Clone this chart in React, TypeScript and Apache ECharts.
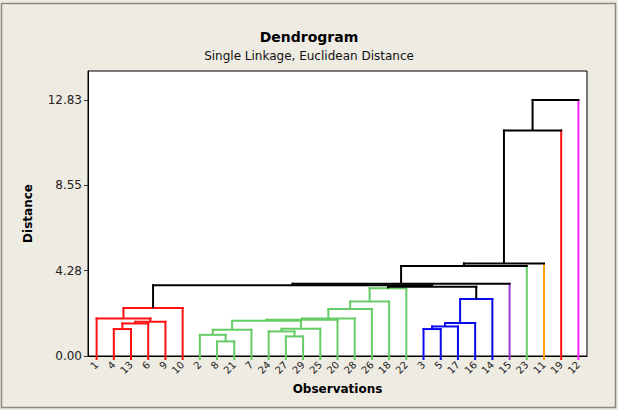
import React, { useEffect, useRef } from "react";
import * as echarts from "echarts";

// Leaf order along the bottom axis
const leaves = ["1", "4", "13", "6", "9", "10", "2", "8", "21", "7", "24", "27", "29", "25", "20", "28", "26", "18", "22", "3", "5", "17", "16", "14", "15", "23", "11", "19", "12"];

// Cluster membership of each observation (leaf colour)
const redLeaves = ["1", "4", "13", "6", "9", "10", "19"];
const greenLeaves = ["2", "8", "21", "7", "24", "27", "29", "25", "20", "28", "26", "18", "22", "23"];
const blueLeaves = ["3", "5", "17", "16", "14"];
const purpleLeaves = ["15"];
const orangeLeaves = ["11"];
const magentaLeaves = ["12"];

// Merge steps: [left child, right child, distance, link colour]
const mergeSteps: [string, string, number, string][] = [
  ["4", "13", 1.35, "red"],
  ["M1", "6", 1.63, "red"],
  ["M2", "9", 1.71, "red"],
  ["1", "M3", 1.88, "red"],
  ["M4", "10", 2.4, "red"],
  ["8", "21", 0.73, "green"],
  ["2", "M6", 1.06, "green"],
  ["M7", "7", 1.31, "green"],
  ["27", "29", 0.98, "green"],
  ["24", "M9", 1.23, "green"],
  ["M10", "25", 1.37, "green"],
  ["M8", "M11", 1.76, "green"],
  ["M12", "20", 1.82, "green"],
  ["M13", "28", 1.88, "green"],
  ["M14", "26", 2.35, "green"],
  ["M15", "18", 2.73, "green"],
  ["M16", "22", 3.39, "green"],
  ["3", "5", 1.35, "blue"],
  ["M18", "17", 1.48, "blue"],
  ["M19", "16", 1.65, "blue"],
  ["M20", "14", 2.85, "blue"],
  ["M17", "M21", 3.47, "black"],
  ["M5", "M22", 3.55, "black"],
  ["M23", "15", 3.62, "black"],
  ["M24", "23", 4.51, "black"],
  ["M25", "11", 4.64, "black"],
  ["M26", "19", 11.3, "black"],
  ["M27", "12", 12.83, "black"],
];

// Distance axis tick values
const distanceTicks = [0, 4.2767, 8.5533, 12.83];
const distanceMax = 14.28;

const palette: Record<string, string> = {
  red: "#ff1010",
  green: "#66cc66",
  blue: "#0a0aee",
  purple: "#9a3acc",
  orange: "#ffa31a",
  magenta: "#ff22ff",
  black: "#000000",
};

function leafColor(id: string): string {
  if (redLeaves.includes(id)) return palette.red;
  if (greenLeaves.includes(id)) return palette.green;
  if (blueLeaves.includes(id)) return palette.blue;
  if (purpleLeaves.includes(id)) return palette.purple;
  if (orangeLeaves.includes(id)) return palette.orange;
  if (magentaLeaves.includes(id)) return palette.magenta;
  return palette.black;
}

type Link = {
  xa: number; ya: number; xb: number; yb: number; h: number;
  colA: string; colB: string; col: string;
  leafA: boolean; leafB: boolean;
};

function buildLinks(): Link[] {
  const pos: Record<string, { x: number; y: number }> = {};
  leaves.forEach((id, i) => (pos[id] = { x: i, y: 0 }));
  const links: Link[] = [];
  mergeSteps.forEach(([a, b, h, c], k) => {
    const col = palette[c];
    const pa = pos[a];
    const pb = pos[b];
    const isLeaf = (id: string) => !id.startsWith("M");
    const legColor = (id: string) => (isLeaf(id) ? leafColor(id) : col);
    links.push({
      xa: pa.x, ya: pa.y, xb: pb.x, yb: pb.y, h,
      colA: legColor(a), colB: legColor(b), col,
      leafA: isLeaf(a), leafB: isLeaf(b),
    });
    pos["M" + (k + 1)] = { x: (pa.x + pb.x) / 2, y: h };
  });
  return links;
}

const FONT = "DejaVu Sans";

export default function App() {
  const ref = useRef<HTMLDivElement>(null);

  useEffect(() => {
    if (!ref.current) return;
    const chart = echarts.init(ref.current, undefined, { renderer: "svg" });
    const links = buildLinks();
    const leafIdx = leaves.map((_, i) => i);

    chart.setOption({
      animation: false,
      backgroundColor: "#eeebe3",
      title: [
        {
          text: "Dendrogram",
          left: "center",
          top: 25,
          textStyle: { fontFamily: FONT, fontSize: 14, fontWeight: "bold", color: "#000" },
        },
        {
          text: "Single Linkage, Euclidean Distance",
          left: "center",
          top: 45,
          textStyle: { fontFamily: FONT, fontSize: 12, fontWeight: "normal", color: "#111" },
        },
      ],
      graphic: [
        {
          type: "rect",
          shape: { x: 1.5, y: 3.5, width: 614, height: 404 },
          style: { fill: "none", stroke: "#8a8a86", lineWidth: 1.5 },
          silent: true,
        },
      ],
      grid: {
        left: 88,
        top: 71,
        width: 499,
        height: 285,
        show: true,
        backgroundColor: "#ffffff",
        borderColor: "#000",
        borderWidth: 1,
      },
      xAxis: {
        type: "value",
        min: -0.5,
        max: leaves.length - 0.5,
        name: "Observations",
        nameLocation: "middle",
        nameGap: 27,
        nameTextStyle: { fontFamily: FONT, fontSize: 12, fontWeight: "bold", color: "#000" },
        axisLine: { show: true, onZero: false, lineStyle: { color: "#000", width: 1 } },
        splitLine: { show: false },
        axisTick: { show: false },
        axisLabel: {
          customValues: leafIdx,
          rotate: 45,
          margin: 7,
          fontFamily: FONT,
          fontSize: 10,
          color: "#222",
          formatter: (v: number) => leaves[Math.round(v)] ?? "",
        },
      },
      yAxis: {
        type: "value",
        min: 0,
        max: distanceMax,
        name: "Distance",
        nameLocation: "middle",
        nameRotate: 90,
        nameGap: 54,
        nameTextStyle: { fontFamily: FONT, fontSize: 12, fontWeight: "bold", color: "#000" },
        axisLine: { show: true, onZero: false, lineStyle: { color: "#000", width: 1 } },
        splitLine: { show: false },
        axisTick: { show: true, length: 4, customValues: distanceTicks, lineStyle: { color: "#333" } },
        axisLabel: {
          customValues: distanceTicks,
          margin: 6,
          fontFamily: FONT,
          fontSize: 12,
          color: "#222",
          formatter: (v: number) => v.toFixed(2),
        },
      },
      series: [
        {
          type: "custom",
          clip: false,
          data: links.map((l) => [l.xa, l.ya, l.xb, l.yb, l.h]),
          encode: { x: [0, 2], y: [1, 3, 4] },
          renderItem: (params: any, api: any) => {
            const l = links[params.dataIndex];
            const a0 = api.coord([l.xa, l.ya]);
            const a1 = api.coord([l.xa, l.h]);
            const b0 = api.coord([l.xb, l.yb]);
            const b1 = api.coord([l.xb, l.h]);
            const lw = 2;
            // leaf legs poke a few pixels below the axis line, acting as ticks
            const stubA = l.leafA ? 4 : 0;
            const stubB = l.leafB ? 4 : 0;
            return {
              type: "group",
              children: [
                {
                  type: "line",
                  shape: { x1: a0[0], y1: a0[1] + stubA, x2: a1[0], y2: a1[1] - 1 },
                  style: { stroke: l.colA, lineWidth: lw },
                },
                {
                  type: "line",
                  shape: { x1: b0[0], y1: b0[1] + stubB, x2: b1[0], y2: b1[1] - 1 },
                  style: { stroke: l.colB, lineWidth: lw },
                },
                {
                  type: "line",
                  shape: { x1: a1[0] - 1, y1: a1[1], x2: b1[0] + 1, y2: b1[1] },
                  style: { stroke: l.col, lineWidth: lw },
                },
              ],
            };
          },
        },
      ],
    });

    return () => chart.dispose();
  }, []);

  return (
    <div
      ref={ref}
      style={{ position: "absolute", left: 0, top: 0, width: 618, height: 410 }}
    />
  );
}
